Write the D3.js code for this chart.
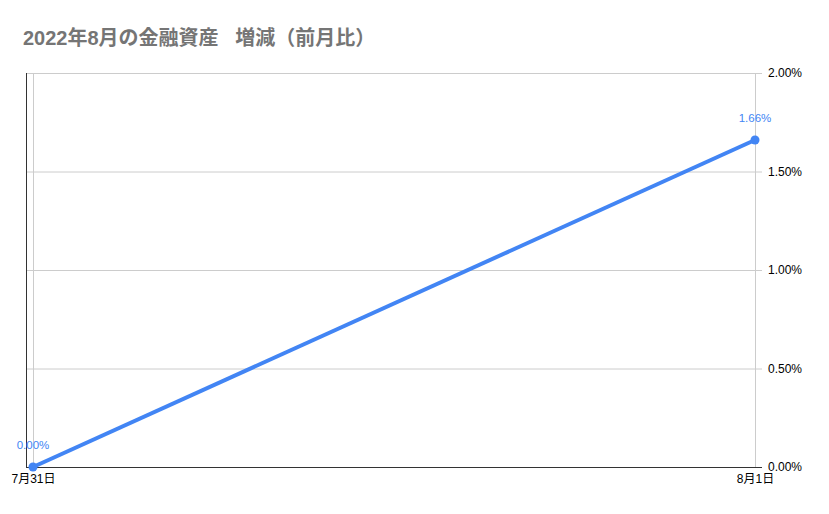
<!DOCTYPE html>
<html>
<head>
<meta charset="utf-8">
<script src="https://cdn.jsdelivr.net/npm/d3@7"></script>
<style>
  body { margin: 0; background: #fff; }
  text { font-family: "Liberation Sans", Arial, "Noto Sans CJK JP", sans-serif; }
</style>
</head>
<body>
<div id="chart"></div>
<script>
var dates = ["7月31日", "8月1日"];
var values = [0.0, 0.0166];
var yTicks = [0, 0.005, 0.01, 0.015, 0.02];

var width = 829, height = 514;
var margin = { top: 73, right: 67, bottom: 47, left: 26 };

var svg = d3.select("#chart").append("svg")
    .attr("width", width)
    .attr("height", height);

svg.append("text")
    .attr("x", 23)
    .attr("y", 45)
    .attr("fill", "#757575")
    .style("font-size", "20px")
    .style("font-weight", "bold")
    .style("white-space", "pre")
    .text("2022年8月の金融資産   増減（前月比）");

var x = d3.scalePoint()
    .domain(dates)
    .range([margin.left + 7, width - margin.right - 7]);

var y = d3.scaleLinear()
    .domain([0, 0.02])
    .range([height - margin.bottom, margin.top]);

var fmt = d3.format(".2%");

// gridlines
var grid = svg.append("g");
grid.selectAll("line.h")
    .data(yTicks)
    .enter().append("line")
    .attr("x1", margin.left)
    .attr("x2", width - margin.right)
    .attr("y1", d => y(d) + 0.5)
    .attr("y2", d => y(d) + 0.5)
    .attr("stroke", "#cccccc");

grid.selectAll("line.v")
    .data(dates)
    .enter().append("line")
    .attr("x1", d => x(d) + 0.5)
    .attr("x2", d => x(d) + 0.5)
    .attr("y1", margin.top)
    .attr("y2", height - margin.bottom)
    .attr("stroke", "#cccccc");

// right axis
var axisRight = svg.append("g")
    .attr("transform", "translate(" + (width - margin.right) + ",0)")
    .call(d3.axisRight(y).tickValues(yTicks).tickFormat(fmt).tickSize(0).tickPadding(6));
axisRight.select(".domain").remove();
axisRight.selectAll("text").style("font-size", "12px").attr("fill", "#000");

// bottom axis
var axisBottom = svg.append("g")
    .attr("transform", "translate(0," + (height - margin.bottom) + ")")
    .call(d3.axisBottom(x).tickSize(0).tickPadding(7));
axisBottom.select(".domain").remove();
axisBottom.selectAll("text").style("font-size", "12px").attr("fill", "#000");

svg.append("line")
    .attr("x1", margin.left)
    .attr("x2", width - margin.right)
    .attr("y1", height - margin.bottom + 0.5)
    .attr("y2", height - margin.bottom + 0.5)
    .attr("stroke", "#333");
svg.append("line")
    .attr("x1", margin.left + 0.5)
    .attr("x2", margin.left + 0.5)
    .attr("y1", margin.top)
    .attr("y2", height - margin.bottom)
    .attr("stroke", "#333");

var data = dates.map((d, i) => ({ key: d, value: values[i] }));

svg.append("path")
    .datum(data)
    .attr("fill", "none")
    .attr("stroke", "#4285f4")
    .attr("stroke-width", 4)
    .attr("d", d3.line().x(d => x(d.key)).y(d => y(d.value)));

svg.selectAll("circle.pt")
    .data(data)
    .enter().append("circle")
    .attr("cx", d => x(d.key))
    .attr("cy", d => y(d.value))
    .attr("r", 4.5)
    .attr("fill", "#4285f4");

svg.selectAll("text.lbl")
    .data(data)
    .enter().append("text")
    .attr("x", d => x(d.key))
    .attr("y", d => y(d.value) - 18)
    .attr("text-anchor", "middle")
    .attr("fill", "#4285f4")
    .style("font-size", "11.5px")
    .text(d => fmt(d.value));
</script>
</body>
</html>
